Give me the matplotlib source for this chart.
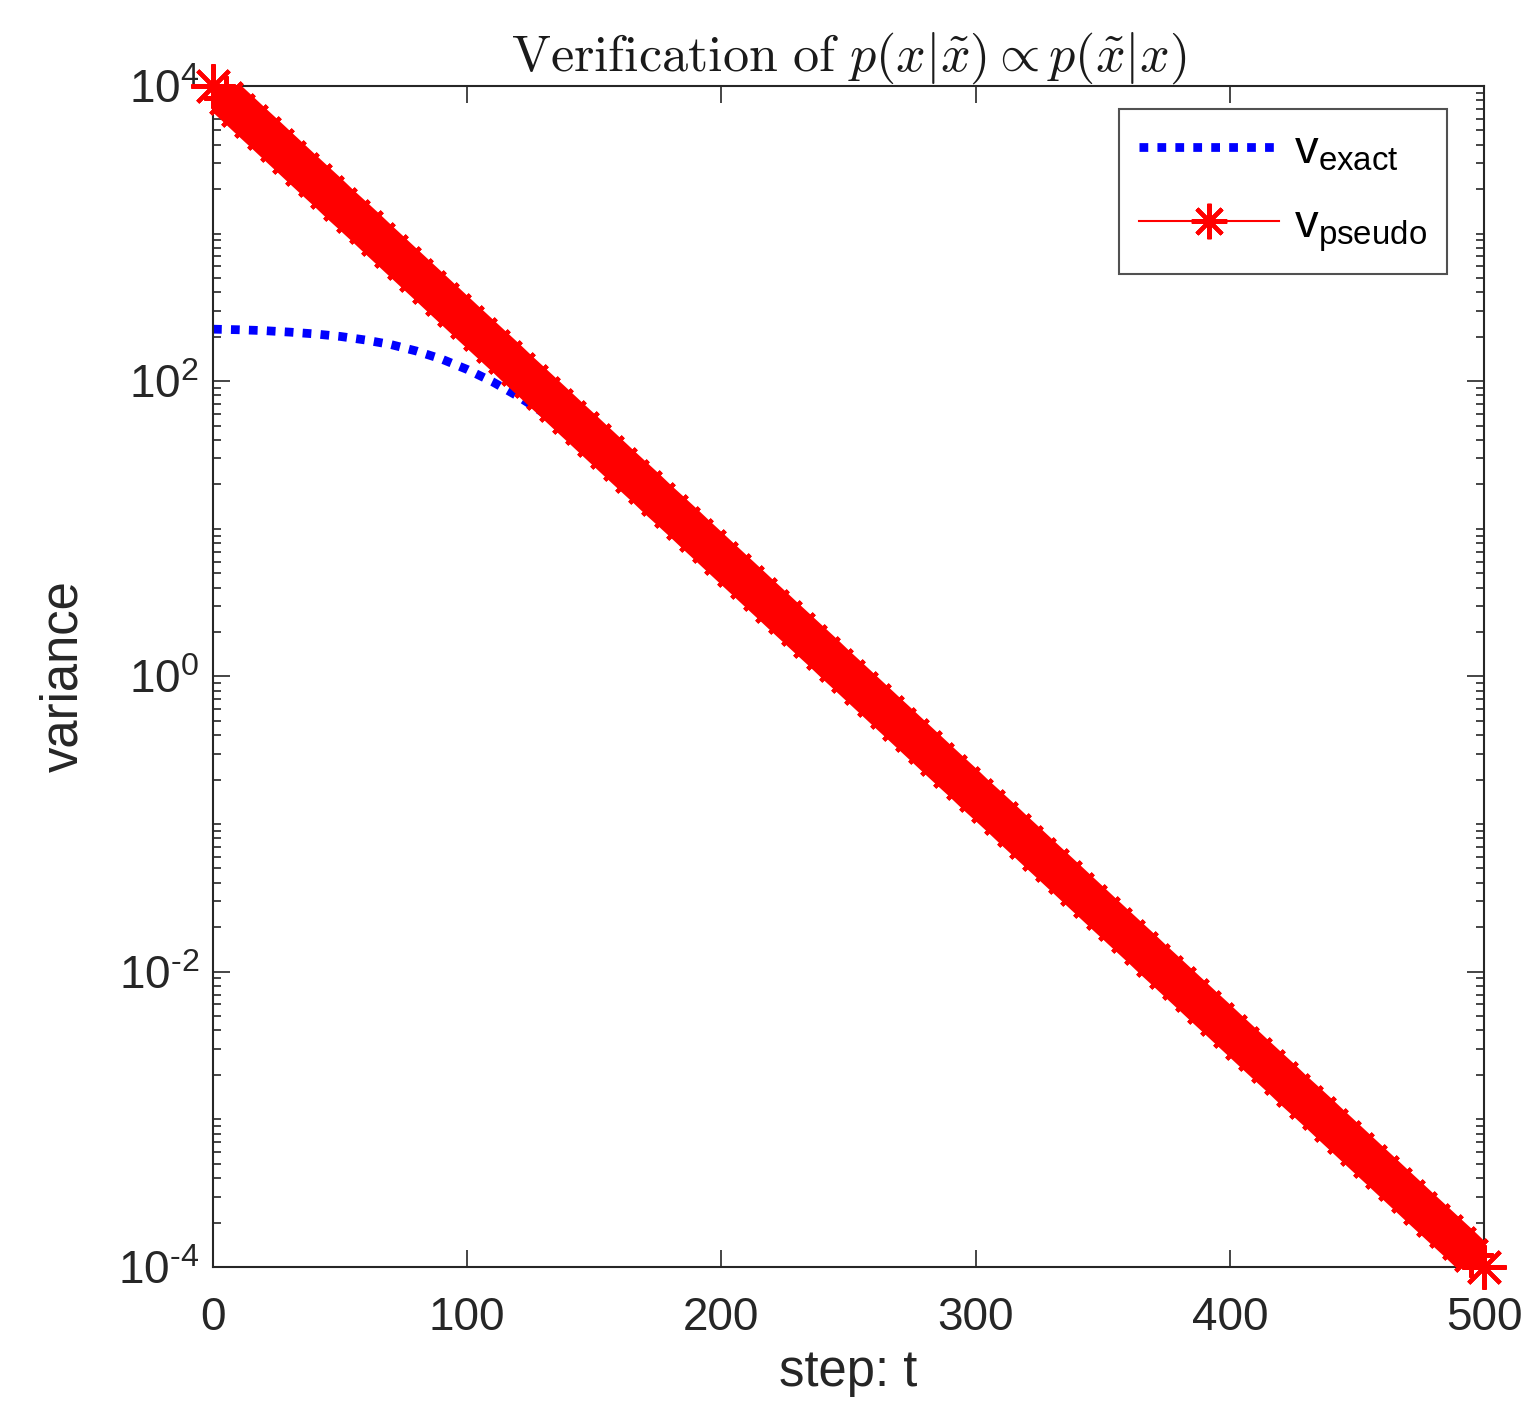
import numpy as np
import matplotlib
matplotlib.use("Agg")
import matplotlib.pyplot as plt
from matplotlib.ticker import LogLocator, FixedLocator, NullFormatter, FuncFormatter

plt.rcParams['font.family'] = ['Liberation Sans', 'DejaVu Sans']
plt.rcParams['mathtext.fontset'] = 'custom'
plt.rcParams['mathtext.rm'] = 'Liberation Sans'
plt.rcParams['mathtext.it'] = 'Liberation Sans:italic'
plt.rcParams['axes.unicode_minus'] = False

# pseudo variance, read every 5 steps (straight line on log axis)
steps_pseudo = list(range(0, 501, 5))
v_pseudo = [
    1.00e4, 8.32e3, 6.92e3, 5.75e3, 4.79e3, 3.98e3, 3.31e3, 2.75e3, 2.29e3, 1.91e3,
    1.58e3, 1.32e3, 1.10e3, 912, 759, 631, 525, 437, 363, 302,
    251, 209, 174, 145, 120, 100, 83.2, 69.2, 57.5, 47.9,
    39.8, 33.1, 27.5, 22.9, 19.1, 15.8, 13.2, 11.0, 9.12, 7.59,
    6.31, 5.25, 4.37, 3.63, 3.02, 2.51, 2.09, 1.74, 1.45, 1.20,
    1.00, 0.832, 0.692, 0.575, 0.479, 0.398, 0.331, 0.275, 0.229, 0.191,
    0.158, 0.132, 0.110, 0.0912, 0.0759, 0.0631, 0.0525, 0.0437, 0.0363, 0.0302,
    0.0251, 0.0209, 0.0174, 0.0145, 0.0120, 0.0100, 8.32e-3, 6.92e-3, 5.75e-3, 4.79e-3,
    3.98e-3, 3.31e-3, 2.75e-3, 2.29e-3, 1.91e-3, 1.58e-3, 1.32e-3, 1.10e-3, 9.12e-4, 7.59e-4,
    6.31e-4, 5.25e-4, 4.37e-4, 3.63e-4, 3.02e-4, 2.51e-4, 2.09e-4, 1.74e-4, 1.45e-4, 1.20e-4,
    1.00e-4,
]

# exact variance, read every 10 steps
steps_exact = list(range(0, 501, 10))
v_exact = [
    225, 223, 220, 215, 209, 201, 190, 177, 160, 141,
    120, 99.0, 79.0, 61.1, 46.0, 33.9, 24.6, 17.6, 12.5, 8.77,
    6.14, 4.28, 2.98, 2.07, 1.44, 0.996, 0.690, 0.478, 0.331, 0.229,
    0.158, 0.110, 0.0759, 0.0525, 0.0363, 0.0251, 0.0174, 0.0120, 8.32e-3, 5.75e-3,
    3.98e-3, 2.75e-3, 1.91e-3, 1.32e-3, 9.12e-4, 6.31e-4, 4.37e-4, 3.02e-4, 2.09e-4, 1.45e-4,
    1.00e-4,
]

x_ticks = [0, 100, 200, 300, 400, 500]
y_ticks = [1e-4, 1e-2, 1e0, 1e2, 1e4]

fig = plt.figure(figsize=(15.27, 14.06), dpi=100)
ax = fig.add_axes([0.1395, 0.0989, 0.8323, 0.8400])

ax.plot(steps_exact, v_exact, color='blue', linestyle=(0, (1, 1.05)),
        linewidth=6.3, dash_capstyle='butt', label=r'v$_{\mathrm{exact}}$')
# the asterisks sit so close in the original that they merge into a solid band
ax.plot(steps_pseudo, v_pseudo, color='red', linewidth=28, solid_capstyle='butt',
        zorder=3)
ax.plot(steps_pseudo, v_pseudo, color='red', linewidth=1.5, marker=(8, 2, 0),
        markersize=32, markeredgewidth=3, clip_on=False, zorder=4,
        label=r'v$_{\mathrm{pseudo}}$')

ax.set_yscale('log')
ax.set_xlim(0, 500)
ax.set_ylim(1e-4, 1e4)
ax.xaxis.set_major_locator(FixedLocator(x_ticks))
ax.yaxis.set_major_locator(FixedLocator(y_ticks))
ax.yaxis.set_major_formatter(FuncFormatter(
    lambda v, p: r'$\mathdefault{10^{\text{%d}}}$' % round(np.log10(v))))
ax.yaxis.set_minor_locator(LogLocator(base=10, subs=np.arange(1, 10), numticks=50))
ax.yaxis.set_minor_formatter(NullFormatter())

dark = '#262626'
for s in ax.spines.values():
    s.set_color(dark)
    s.set_linewidth(1.5)
ax.tick_params(which='both', direction='in', top=True, right=True, colors=dark,
               labelcolor='#262626', labelsize=33, width=1.2)
ax.tick_params(which='major', length=12)
ax.tick_params(which='minor', length=6)
ax.tick_params(axis='x', which='major', pad=21)
ax.tick_params(axis='y', which='major', pad=10)

ax.set_xlabel('step: t', fontsize=36.5, color='#262626', labelpad=6)
ax.set_ylabel('variance', fontsize=36.5, color='#262626', labelpad=21)
ax.set_title(r'$\mathrm{Verification\ of\ }p(x|\tilde{x})\propto p(\tilde{x}|x)$',
             fontsize=37.5, math_fontfamily='cm', pad=10, color='#1a1a1a')

leg = ax.legend(loc='upper right', bbox_to_anchor=(0.9709, 0.9805),
                borderaxespad=0, fontsize=34, frameon=True, fancybox=False,
                edgecolor=dark, handlelength=2.97, handletextpad=0.3,
                borderpad=0.43, markerscale=0.8, labelspacing=0.64)
leg.get_frame().set_linewidth(1.5)

fig.savefig('out.png', dpi=100, facecolor='white')
